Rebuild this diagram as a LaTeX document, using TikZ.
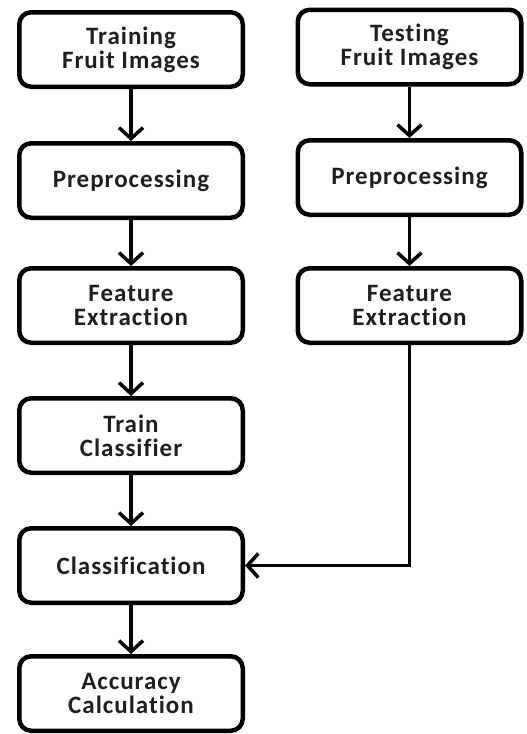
\documentclass[tikz,border=0pt]{standalone}
\usepackage{fontspec}
\setmainfont{Carlito}[Ligatures=NoCommon, LetterSpace=4]
\usetikzlibrary{arrows.meta}
\tikzset{
  box/.style={draw, line width=4.5pt, rounded corners=12pt, minimum width=223.5pt, minimum height=74.5pt,
    align=center, font=\fontsize{25}{24}\selectfont\bfseries, text=black!88, inner sep=0pt},
  flow/.style={line width=3.5pt, -{Straight Barb[length=11pt,width=24pt]}}
}
\begin{document}
\begin{tikzpicture}[x=1pt,y=1pt]
\useasboundingbox (0,0) rectangle (527,-734);
\node[box] (train) at (131,-49.5) {Training\\Fruit Images};
\node[box] (lpre) at (131,-180.5) {Preprocessing};
\node[box] (lfe) at (131,-305.5) {Feature\\Extraction};
\node[box] (tc) at (131,-435.5) {Train\\Classifier};
\node[box] (cls) at (131,-565.5) {Classification};
\node[box] (acc) at (131,-693.5) {Accuracy\\Calculation};
\node[box] (test) at (409.5,-47) {Testing\\Fruit Images};
\node[box] (rpre) at (409.5,-177.5) {Preprocessing};
\node[box] (rfe) at (409.5,-305.5) {Feature\\Extraction};
\coordinate (corner) at (rfe.south |- cls.east);
\draw[flow] (train) -- (lpre);
\draw[flow] (lpre) -- (lfe);
\draw[flow] (lfe) -- (tc);
\draw[flow] (tc) -- (cls);
\draw[flow] (cls) -- (acc);
\draw[flow] (test) -- (rpre);
\draw[flow] (rpre) -- (rfe);
\draw[flow, rounded corners=0pt] (rfe.south) -- (corner) -- (cls.east);
\end{tikzpicture}
\end{document}
